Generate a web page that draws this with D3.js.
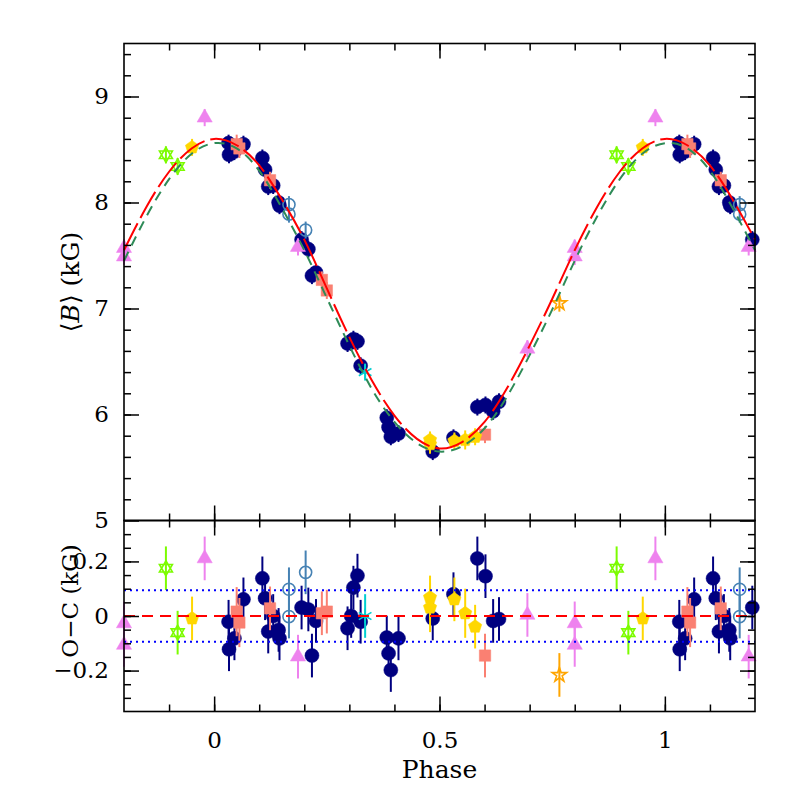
<!DOCTYPE html>
<html>
<head>
<meta charset="utf-8">
<script src="https://cdn.jsdelivr.net/npm/d3@7"></script>
<style>
  body { margin: 0; background: #fff; }
  #chart svg { display: block; }
  .tick text { font-family: "DejaVu Serif", serif; font-size: 23px; fill: #000; }
  .axis-label { font-family: "DejaVu Serif", serif; font-size: 23px; fill: #000; }
  .axis-label.big { font-size: 25px; }
</style>
</head>
<body>
<div id="chart"></div>
<script>
const __CONFIG__ = {
  main_id: "chart",
  width: 797,
  height: 797,
  left: 124,
  right: 755,
  top: 43.5,
  mid: 520.5,
  bottom: 711.5,
  major_tick: 15,
  minor_tick: 7
}

// fitted curves, every 0.05 in phase
const fit_phase = [-0.2, -0.15, -0.1, -0.05, 0, 0.05, 0.1, 0.15, 0.2, 0.25, 0.3, 0.35, 0.4, 0.45, 0.5,
                   0.55, 0.6, 0.65, 0.7, 0.75, 0.8, 0.85, 0.9, 0.95, 1, 1.05, 1.1, 1.15, 1.2];
const fit_red = [7.55, 7.96, 8.29, 8.51, 8.60, 8.54, 8.35, 8.03, 7.65, 7.19, 6.73, 6.32, 5.99, 5.77, 5.68,
                 5.74, 5.93, 6.25, 6.65, 7.09, 7.55, 7.96, 8.29, 8.51, 8.60, 8.54, 8.35, 8.03, 7.65];
const fit_green = [7.45, 7.87, 8.22, 8.46, 8.56, 8.51, 8.30, 7.95, 7.55, 7.10, 6.65, 6.24, 5.93, 5.73, 5.65,
                   5.70, 5.87, 6.17, 6.56, 6.99, 7.45, 7.87, 8.22, 8.46, 8.56, 8.51, 8.30, 7.95, 7.55];
const rms_band = 0.094;

// [phase, <B> (kG), O-C (kG), sigma (kG)]
const navy_points = [
  [0.032, 8.56, -0.021, 0.08], [0.033, 8.45, -0.122, 0.08], [0.045, 8.48, -0.082, 0.08],
  [0.065, 8.55, 0.061, 0.08], [0.107, 8.42, 0.138, 0.08], [0.113, 8.31, 0.065, 0.08],
  [0.120, 8.15, -0.057, 0.08], [0.131, 8.16, 0.000, 0.08], [0.143, 8.00, -0.051, 0.08],
  [0.145, 7.97, -0.082, 0.08], [0.194, 7.65, 0.031, 0.08], [0.209, 7.56, 0.024, 0.08],
  [0.217, 7.31, -0.145, 0.08], [0.226, 7.34, -0.018, 0.08], [0.296, 6.67, -0.045, 0.08],
  [0.304, 6.68, 0.000, 0.08], [0.309, 6.71, 0.104, 0.08], [0.318, 6.69, 0.148, 0.08],
  [0.325, 6.46, -0.021, 0.08], [0.383, 5.97, -0.079, 0.08], [0.387, 5.88, -0.137, 0.08],
  [0.392, 5.79, -0.198, 0.08], [0.409, 5.82, -0.082, 0.08], [0.485, 5.65, -0.009, 0.08],
  [0.531, 5.78, 0.080, 0.08], [0.584, 6.07, 0.211, 0.08], [0.602, 6.09, 0.146, 0.08],
  [0.619, 6.03, -0.018, 0.08], [0.632, 6.12, -0.011, 0.08]
];
const salmon_points = [
  [0.050, 8.55, 0.016, 0.09], [0.056, 8.51, -0.024, 0.09], [0.124, 8.21, 0.028, 0.08],
  [0.239, 7.27, 0.010, 0.08], [0.250, 7.17, 0.016, 0.08], [0.601, 5.81, -0.145, 0.08]
];
const violet_points = [
  [0.186, 7.58, -0.149, 0.08], [0.695, 6.62, 0.004, 0.08], [0.800, 7.57, -0.027, 0.08],
  [0.800, 7.49, -0.106, 0.08], [0.979, 8.80, 0.211, 0.08]
];
const steelblue_points = [
  [0.166, 7.98, 0.098, 0.08], [0.166, 7.89, -0.002, 0.08], [0.203, 7.74, 0.160, 0.08]
];
const green_points = [
  [0.893, 8.45, 0.175, 0.08], [0.919, 8.34, -0.061, 0.08]
];
const gold_points = [
  [0.951, 8.52, -0.009, 0.08], [0.479, 5.76, 0.068, 0.08], [0.479, 5.72, 0.031, 0.09],
  [0.533, 5.75, 0.061, 0.08], [0.557, 5.76, 0.010, 0.09], [0.579, 5.79, -0.039, 0.08]
];
const orange_points = [[0.766, 7.05, -0.216, 0.08]];
const cyan_points = [[0.335, 6.40, 0.000, 0.08]];

function select_main(config=__CONFIG__) {
  return d3.select(`#${config.main_id}`);
}

function polygon_path(n, r, start, step) {
  const pts = d3.range(n).map(i => {
    const a = (start + i * step) * Math.PI / 180;
    return [r * Math.cos(a), r * Math.sin(a)];
  });
  return d3.line()(pts) + "Z";
}

const shapes = {
  circle: d3.symbol(d3.symbolCircle, 155)(),
  open_circle: d3.symbol(d3.symbolCircle, 115)(),
  square: d3.symbol(d3.symbolSquare, 130)(),
  triangle: d3.symbol(d3.symbolTriangle, 100)(),
  pentagon: polygon_path(5, 7, -90, 72),
  hexagram: polygon_path(3, 7.5, -90, 120) + polygon_path(3, 7.5, 90, 120),
  star: d3.symbol(d3.symbolStar, 65)(),
  asterisk: d3.symbol(d3.symbolAsterisk, 150)()
};

const series = [
  {points: navy_points, color: "#000080", shape: "circle", filled: true},
  {points: salmon_points, color: "#fa8072", shape: "square", filled: true},
  {points: violet_points, color: "#ee82ee", shape: "triangle", filled: true},
  {points: steelblue_points, color: "#4682b4", shape: "open_circle", filled: false},
  {points: green_points, color: "#7cfc00", shape: "hexagram", filled: false},
  {points: gold_points, color: "#ffd700", shape: "pentagon", filled: true},
  {points: orange_points, color: "#ffa500", shape: "star", filled: false},
  {points: cyan_points, color: "#00ced1", shape: "asterisk", filled: false}
];

// phases are folded, repeat them one cycle either side inside the window
function unfold(points) {
  const out = [];
  for (const p of points) {
    for (const s of [-1, 0, 1]) {
      const ph = p[0] + s;
      if (ph >= -0.2005 && ph <= 1.2005)
        out.push({phase: ph, b: p[1], oc: p[2], err: p[3]});
    }
  }
  return out;
}

function frame_axes(g, x, y, c, opts) {
  const [y0, y1] = y.range();
  const add = (axis, tx, ty) => {
    const a = g.append("g").attr("transform", `translate(${tx},${ty})`).call(axis);
    a.select(".domain").remove();
    a.selectAll(".tick line").attr("stroke", "#000").attr("stroke-width", 1.5);
    return a;
  };
  // left and right
  add(d3.axisLeft(y).tickValues(opts.y_minor).tickSize(-c.minor_tick).tickFormat(""), c.left, 0);
  add(d3.axisLeft(y).tickValues(opts.y_major).tickSize(-c.major_tick).tickPadding(15)
        .tickFormat(opts.y_format), c.left, 0);
  add(d3.axisRight(y).tickValues(opts.y_minor).tickSize(-c.minor_tick).tickFormat(""), c.right, 0);
  add(d3.axisRight(y).tickValues(opts.y_major).tickSize(-c.major_tick).tickFormat(""), c.right, 0);
  // top and bottom
  const x_minor = d3.range(-0.1, 1.15, 0.1);
  const x_major = [0, 0.5, 1];
  add(d3.axisTop(x).tickValues(x_minor).tickSize(-c.minor_tick).tickFormat(""), 0, y1);
  add(d3.axisTop(x).tickValues(x_major).tickSize(-c.major_tick).tickFormat(""), 0, y1);
  add(d3.axisBottom(x).tickValues(x_minor).tickSize(-c.minor_tick).tickFormat(""), 0, y0);
  const bx = add(d3.axisBottom(x).tickValues(x_major).tickSize(-c.major_tick).tickPadding(20)
        .tickFormat(opts.x_labels ? d3.format("") : ""), 0, y0);
  bx.selectAll(".tick text").attr("dy", "0.71em");

  g.append("rect")
    .attr("x", c.left).attr("y", y1)
    .attr("width", c.right - c.left).attr("height", y0 - y1)
    .attr("fill", "none").attr("stroke", "#000").attr("stroke-width", 1.6);
}

function draw_points(g, x, y, key) {
  for (const s of series) {
    const data = unfold(s.points);
    const grp = g.append("g");
    grp.selectAll("line.err")
      .data(data)
      .join("line")
      .classed("err", true)
      .attr("x1", d => x(d.phase)).attr("x2", d => x(d.phase))
      .attr("y1", d => y(d[key] - d.err)).attr("y2", d => y(d[key] + d.err))
      .attr("stroke", s.color).attr("stroke-width", 2);
    grp.selectAll("path.mark")
      .data(data)
      .join("path")
      .classed("mark", true)
      .attr("d", shapes[s.shape])
      .attr("transform", d => `translate(${x(d.phase)},${y(d[key])})`)
      .attr("fill", s.filled ? s.color : "none")
      .attr("stroke", s.color)
      .attr("stroke-width", s.filled ? 0.5 : 1.6);
  }
}

function chart_main(config=__CONFIG__) {
  const c = config;
  const svg = select_main().append("svg")
    .attr("width", c.width).attr("height", c.height);

  const x = d3.scaleLinear().domain([-0.2, 1.2]).range([c.left, c.right]);
  const y_top = d3.scaleLinear().domain([5, 9.5]).range([c.mid, c.top]);
  const y_bot = d3.scaleLinear().domain([-0.35, 0.35]).range([c.bottom, c.mid]);

  // upper panel: <B> with the two fits
  const top = svg.append("g");
  draw_points(top, x, y_top, "b");
  const fit_line = (vals) => d3.line()
    .x((d, i) => x(fit_phase[i]))
    .y(d => y_top(d))
    .curve(d3.curveNatural)(vals);
  top.append("path").attr("d", fit_line(fit_green))
    .attr("fill", "none").attr("stroke", "#2e8b57").attr("stroke-width", 2)
    .attr("stroke-dasharray", "10,7");
  top.append("path").attr("d", fit_line(fit_red))
    .attr("fill", "none").attr("stroke", "#ff0000").attr("stroke-width", 2)
    .attr("stroke-dasharray", "30,6");
  frame_axes(top, x, y_top, c, {
    y_major: [5, 6, 7, 8, 9],
    y_minor: d3.range(5.2, 9.45, 0.2),
    y_format: d3.format("d"),
    x_labels: false
  });

  // lower panel: residuals
  const bot = svg.append("g");
  draw_points(bot, x, y_bot, "oc");
  for (const v of [rms_band, -rms_band]) {
    bot.append("line")
      .attr("x1", c.left).attr("x2", c.right)
      .attr("y1", y_bot(v)).attr("y2", y_bot(v))
      .attr("stroke", "#0000ff").attr("stroke-width", 2)
      .attr("stroke-dasharray", "2,4");
  }
  bot.append("line")
    .attr("x1", c.left).attr("x2", c.right)
    .attr("y1", y_bot(0)).attr("y2", y_bot(0))
    .attr("stroke", "#ff0000").attr("stroke-width", 2)
    .attr("stroke-dasharray", "11,7");
  frame_axes(bot, x, y_bot, c, {
    y_major: [-0.2, 0, 0.2],
    y_minor: d3.range(-0.3, 0.31, 0.05),
    y_format: d => d === 0 ? "0" : d3.format(".1f")(d),
    x_labels: true
  });

  // axis titles
  svg.append("text").classed("axis-label big", true)
    .attr("transform", `translate(79,${(c.top + c.mid) / 2}) rotate(-90)`)
    .attr("text-anchor", "middle")
    .html('⟨<tspan font-style="italic">B</tspan>⟩ (kG)');
  svg.append("text").classed("axis-label", true)
    .attr("transform", "translate(78,601) rotate(-90)")
    .attr("text-anchor", "middle")
    .text("O\u2212C (kG)");
  svg.append("text").classed("axis-label big", true)
    .attr("x", (c.left + c.right) / 2).attr("y", 778)
    .attr("text-anchor", "middle")
    .text("Phase");
}

chart_main();
</script>
</body>
</html>
